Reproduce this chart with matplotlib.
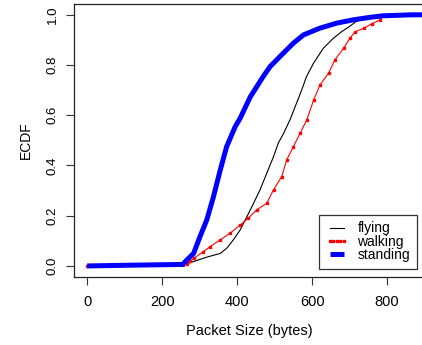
import matplotlib
matplotlib.use('Agg')
import matplotlib.pyplot as plt

plt.rcParams['font.family'] = ['Liberation Sans', 'DejaVu Sans']

# ECDF curves (packet size in bytes, cumulative fraction)
flying_x = [0, 250, 265, 275, 319, 355, 372, 390, 408, 426, 444, 461, 479, 497,
            510, 523, 541, 555, 572, 585, 604, 630, 657, 679, 701, 719, 760,
            800, 950]
flying_y = [0.0, 0.003, 0.008, 0.013, 0.035, 0.05, 0.07, 0.104, 0.143, 0.196,
            0.25, 0.303, 0.369, 0.435, 0.49, 0.525, 0.582, 0.635, 0.70, 0.754,
            0.808, 0.867, 0.907, 0.933, 0.955, 0.975, 0.99, 1.0, 1.0]

walking_x = [0, 255, 265, 275, 284, 310, 328, 355, 381, 408, 430, 452, 479,
             497, 519, 532, 550, 568, 586, 604, 621, 644, 661, 684, 701, 715,
             737, 759, 781, 790, 950]
walking_y = [0.0, 0.003, 0.008, 0.018, 0.03, 0.057, 0.077, 0.104, 0.13, 0.163,
             0.19, 0.223, 0.25, 0.303, 0.356, 0.422, 0.475, 0.529, 0.582,
             0.661, 0.721, 0.768, 0.821, 0.867, 0.907, 0.933, 0.946, 0.964,
             0.98, 1.0, 1.0]

standing_x = [0, 115, 255, 266, 284, 301, 319, 337, 355, 372, 395, 408, 435,
              469, 488, 523, 550, 577, 621, 666, 710, 755, 789, 866, 950]
standing_y = [0.0, 0.003, 0.006, 0.024, 0.05, 0.117, 0.183, 0.276, 0.382,
              0.475, 0.555, 0.588, 0.673, 0.753, 0.794, 0.847, 0.887, 0.92,
              0.947, 0.967, 0.98, 0.99, 0.996, 1.0, 1.0]

x_ticks = [0, 200, 400, 600, 800]
y_ticks = [0.0, 0.2, 0.4, 0.6, 0.8, 1.0]

W, H = 422, 345
fig = plt.figure(figsize=(W / 100, H / 100), dpi=100)
ax = fig.add_axes([74 / W, (H - 277) / H, (425 - 74) / W, (277 - 4) / H])

ax.plot(flying_x, flying_y, color='black', lw=0.8, label='flying')
ax.plot(walking_x, walking_y, color='red', lw=0.8, marker='s', ms=1.6,
        label='walking')
ax.plot(standing_x, standing_y, color='blue', lw=3.6, label='standing',
        solid_capstyle='butt')

ax.set_xlim(-35, 901)
ax.set_ylim(-0.044, 1.043)
ax.set_xticks(x_ticks)
ax.set_xticklabels([str(v) for v in x_ticks], fontsize=10.5)
ax.set_yticks(y_ticks)
ax.set_yticklabels([f'{v:.1f}' for v in y_ticks], fontsize=9.5,
                   rotation=90, va='center')
ax.tick_params(axis='both', direction='out', length=6, width=0.8,
               color='#333333')
ax.tick_params(axis='x', pad=7)
ax.tick_params(axis='y', pad=5)
for s in ax.spines.values():
    s.set_linewidth(0.9)
    s.set_color('#222222')

ax.set_xlabel('Packet Size (bytes)', fontsize=10.5, labelpad=11)
ax.set_ylabel('ECDF', fontsize=10, labelpad=10)

leg = ax.legend(loc='lower right', bbox_to_anchor=(417 / W, (H - 269) / H),
                bbox_transform=fig.transFigure, borderaxespad=0,
                fontsize=10, fancybox=False, framealpha=1,
                edgecolor='#333333', labelspacing=-0.05, handlelength=1.6,
                handletextpad=0.7, borderpad=0.5, numpoints=5)
leg.get_frame().set_linewidth(0.9)

fig.savefig('out.png', dpi=100)
